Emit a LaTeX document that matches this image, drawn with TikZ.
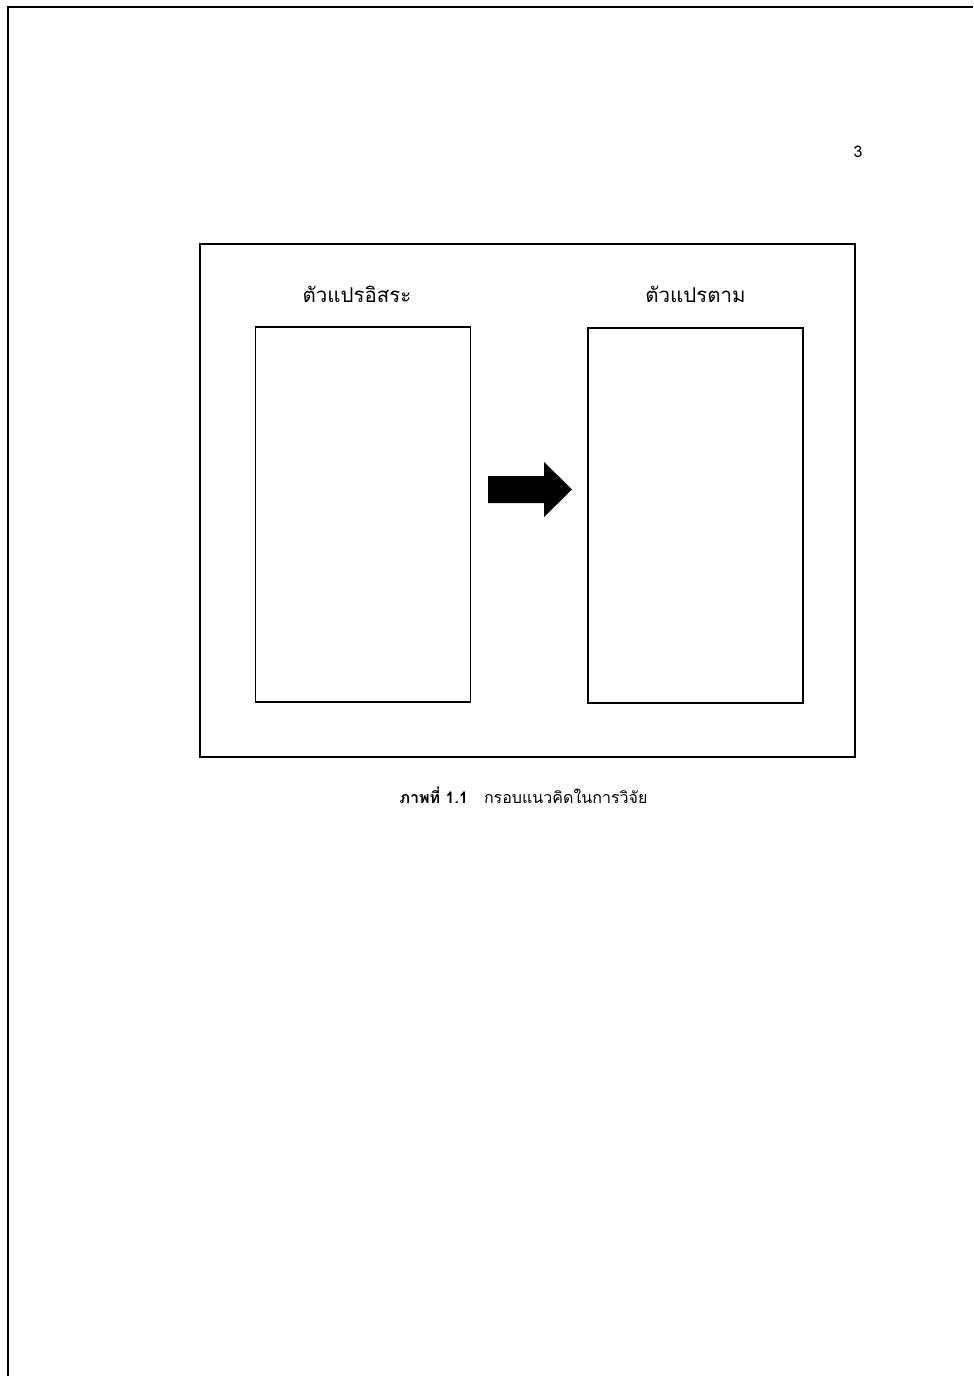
\documentclass[tikz,border=0pt]{standalone}
\usepackage{fontspec}
\newfontfamily\thaifont[Script=Thai]{Loma}
\usepackage{tikz}
\usetikzlibrary{positioning}
\newlength\unitpx
\setlength\unitpx{0.6115pt}
\tikzset{%
  page/.style = {line width=1.6pt},
  frame/.style = {rectangle, draw, line width=0.8pt},
  varbox/.style = {rectangle, draw, line width=0.8pt, minimum width=215\unitpx, minimum height=375\unitpx},
  varname/.style = {font=\thaifont\fontsize{12.5}{15}\selectfont, inner sep=0pt},
  caption/.style = {font=\thaifont\fontsize{9.8}{12}\selectfont, inner sep=0pt}
}

\begin{document}
\begin{tikzpicture}[x=\unitpx, y=-\unitpx]
    \useasboundingbox (0,0) rectangle (973,1376);
    \draw[page] (8,1376) -- (8,7) -- (973,7);

    \node (pageno)  [caption] at (858,152) {3};
    \node (frame)   [frame, minimum width=655\unitpx, minimum height=513\unitpx] at (527.5,500.5) {};
    \node (indep)   [varbox] at (363,514.5) {};
    \node (dep)     [varbox] at (695.5,515.5) {};
    \node (indepname) [varname, above = 23\unitpx of indep, xshift=-6\unitpx] {ตัวแปรอิสระ};
    \node (depname)   [varname, above = 24\unitpx of dep] {ตัวแปรตาม};
    \node (fig)     [caption, below = 29\unitpx of frame, xshift=-4\unitpx] {\textbf{ภาพที่ 1.1}\quad กรอบแนวคิดในการวิจัย};

    \coordinate (flow) at (488,489.5);
    \fill (flow) ++(0,-13.5) -- ++(56,0) -- ++(0,-14) -- ++(28,27.5)
                 -- ++(-28,27.5) -- ++(0,-14) -- ++(-56,0) -- cycle;
\end{tikzpicture}
\end{document}
